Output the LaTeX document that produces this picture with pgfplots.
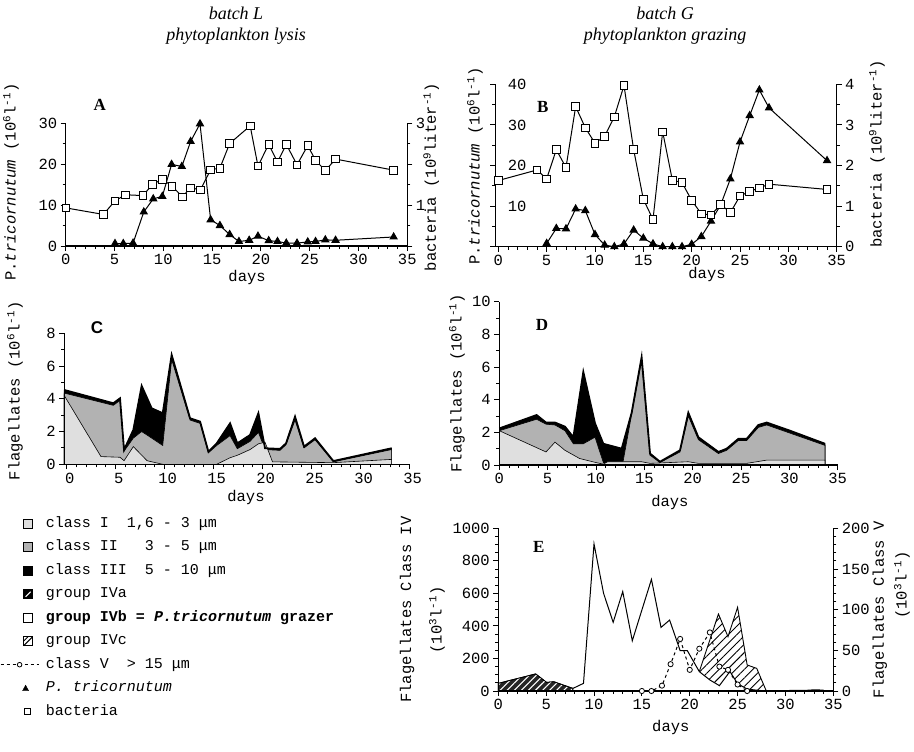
\documentclass[border=0pt]{standalone}
\usepackage{pgfplots}
\pgfplotsset{compat=1.18}
\usepackage{fontspec}
\setmainfont{Liberation Mono}
\newfontfamily\serifit{Liberation Serif}
\newfontfamily\sansf{Liberation Sans}
\usetikzlibrary{patterns,patterns.meta}
\pgfplotsset{
  common/.style={
    scale only axis, clip=false, axis on top,
    font=\fontsize{15.5}{17}\selectfont,
    /pgf/number format/assume math mode=true,
    /pgf/number format/1000 sep={},
    axis line style={line width=1.3pt},
    tick style={black, line width=0.9pt},
    major tick length=5pt, minor tick length=3pt,
    tick align=outside,
  },
  base/.style={common,
    xtick={0,5,...,35}, minor x tick num=4,
    axis x line*=bottom, axis y line*=left,
    every axis x label/.style={anchor=center},
    every axis y label/.style={anchor=center, rotate=90},
  },
  twin/.style={common,
    axis x line=none, axis y line*=right,
    every axis y label/.style={anchor=center, rotate=90},
  },
}
\newcommand{\panel}[1]{\node[font=\serifit\bfseries\fontsize{17}{19}\selectfont] at #1}
\begin{document}
\begin{tikzpicture}
\useasboundingbox (0pt,0pt) rectangle (914pt,-752pt);
% titles
\node[font=\serifit\itshape\fontsize{18}{20}\selectfont] at (236pt,-13pt) {batch L};
\node[font=\serifit\itshape\fontsize{18}{20}\selectfont] at (236pt,-36pt) {phytoplankton lysis};
\node[font=\serifit\itshape\fontsize{18}{20}\selectfont] at (665pt,-13pt) {batch G};
\node[font=\serifit\itshape\fontsize{18}{20}\selectfont] at (665pt,-36pt) {phytoplankton grazing};

% ---------------- Panel A ----------------
\begin{axis}[base, at={(65.7pt,-246pt)}, anchor=south west, width=341.6pt, height=123pt,
  xmin=0, xmax=35, ymin=0, ymax=30, ytick={0,10,20,30}, minor y tick num=1,
  xlabel={days}, xlabel style={at={(axis description cs:0.531,-0.254)}},
  ylabel={P.\textit{tricornutum} (10\textsuperscript{6}l\textsuperscript{-1})},
  ylabel style={at={(axis description cs:-0.16,0.52)}}]
\addplot[line width=1pt, mark=triangle*, mark size=4pt] coordinates {
(5.05,0.6)(5.9,0.6)(6.9,0.7)(8.0,8.3)(8.97,11.5)(9.9,12.1)(10.85,19.9)(11.9,19.4)
(12.8,25.5)(13.76,29.8)(14.85,6.4)(15.8,5.0)(16.8,2.8)(17.75,1.1)(18.8,1.4)(19.7,2.4)
(20.8,1.3)(21.7,1.1)(22.6,0.7)(23.7,0.7)(24.8,1.0)(25.6,1.1)(26.6,1.5)(27.65,1.4)(33.6,2.2)};
\panel{(axis description cs:0.10,1.15)} {A};
\end{axis}
\begin{axis}[twin, at={(65.7pt,-246pt)}, anchor=south west, width=341.6pt, height=123pt,
  xmin=0, xmax=35, ymin=0, ymax=3, ytick={0,1,2,3}, yticklabels={,1,,3}, minor y tick num=1,
  ylabel={bacteria (10\textsuperscript{9}liter\textsuperscript{-1})},
  ylabel style={at={(axis description cs:1.07,0.56)}}]
\addplot[line width=1pt, mark=square*, mark size=3.8pt, mark options={fill=white, line width=0.8pt}] coordinates {
(0,0.93)(3.86,0.77)(5.05,1.10)(6.1,1.25)(7.9,1.23)(8.9,1.50)(9.9,1.63)(10.9,1.46)(11.95,1.20)
(12.8,1.42)(13.8,1.37)(14.85,1.86)(15.8,1.90)(16.8,2.50)(18.9,2.93)(19.7,1.95)(20.8,2.48)
(21.7,2.05)(22.6,2.48)(23.7,1.98)(24.8,2.45)(25.6,2.09)(26.6,1.84)(27.65,2.12)(33.6,1.85)};
\end{axis}

% ---------------- Panel B ----------------
\begin{axis}[base, at={(495.4pt,-246.7pt)}, anchor=south west, width=341.3pt, height=162.4pt,
  xmin=-0.3, xmax=35, ymin=0, ymax=40, ytick={0,10,20,30,40}, yticklabels={,10,20,30,40},
  minor y tick num=1, yticklabel style={anchor=west, xshift=14pt},
  xlabel={days}, xlabel style={at={(axis description cs:0.62,-0.174)}},
  ylabel={P.\textit{tricornutum} (10\textsuperscript{6}l\textsuperscript{-1})},
  ylabel style={at={(axis description cs:-0.06,0.497)}}]
\addplot[line width=1pt, mark=triangle*, mark size=4pt] coordinates {
(5,0.8)(6,4.5)(7,4.4)(8,9.3)(9,8.9)(10,3.0)(11,0.4)(12,0)(13,0.7)(14,4.1)(15,2.1)(16,0.7)
(17,0)(18,0)(19,0)(20,0.6)(21,2.5)(22,6.3)(23,10.3)(24,16.7)(25,25.8)(26,32.3)(27,38.6)(28,34.2)(34,21.2)};
\panel{(axis description cs:0.139,0.86)} {B};
\end{axis}
\begin{axis}[twin, at={(495.4pt,-246.7pt)}, anchor=south west, width=341.3pt, height=162.4pt,
  xmin=-0.3, xmax=35, ymin=0, ymax=4, ytick={0,1,2,3,4}, minor y tick num=1,
  ylabel={bacteria (10\textsuperscript{9}liter\textsuperscript{-1})},
  ylabel style={at={(axis description cs:1.118,0.571)}}]
\addplot[line width=1pt, mark=square*, mark size=3.8pt, mark options={fill=white, line width=0.8pt}] coordinates {
(0,1.63)(4,1.89)(5,1.67)(6,2.39)(7,1.95)(8,3.45)(9,2.93)(10,2.55)(11,2.72)(12,3.2)(13,3.97)
(14,2.39)(15,1.17)(16,0.67)(17,2.83)(18,1.64)(19,1.58)(20,1.14)(21,0.81)(22,0.78)(23,1.04)
(24,0.84)(25,1.25)(26,1.36)(27,1.45)(28,1.54)(34,1.41)};
\end{axis}

% ---------------- Panel C ----------------
\begin{axis}[base, at={(64.25pt,-464.3pt)}, anchor=south west, width=345.45pt, height=131pt,
  xmin=-0.25, xmax=35, ymin=0, ymax=8, ytick={0,2,4,6,8}, minor y tick num=1,
  xticklabel style={xshift=3pt},
  xlabel={days}, xlabel style={at={(axis description cs:0.526,-0.25)}},
  ylabel={Flagellates (10\textsuperscript{6}l\textsuperscript{-1})},
  ylabel style={at={(axis description cs:-0.1426,0.56)}}]
\addplot[fill=black, draw=black, line width=0.5pt] coordinates {
(-0.25,4.54)(4.76,3.73)(5.44,4.03)(5.85,0.88)(6.80,2.10)(7.65,4.79)(8.67,3.42)(9.80,3.12)
(10.71,6.68)(12.59,2.81)(13.61,2.61)(14.46,0.77)(15.31,1.28)(16.67,2.50)(17.41,1.28)(18.71,1.79)
(19.56,3.12)(20.24,0.98)(21.77,0.94)(22.38,1.28)(23.30,2.91)(24.22,1.08)(25.34,1.59)(27.21,0.20)(33.16,0.98)} \closedcycle;
\addplot[fill=gray!60, draw=black, line width=0.6pt] coordinates {
(-0.25,4.35)(4.76,3.6)(5.44,3.9)(5.85,0.8)(6.80,1.6)(7.65,2.0)(8.67,1.6)(9.80,1.15)
(10.71,6.4)(12.59,2.7)(13.61,2.5)(14.46,0.7)(15.31,1.15)(16.67,1.75)(17.41,0.95)(18.71,1.4)
(19.56,1.95)(20.24,0.9)(21.77,0.85)(22.38,1.2)(23.30,2.7)(24.22,1.0)(25.34,1.5)(27.21,0.15)(33.16,0.9)} \closedcycle;
\addplot[fill=gray!25, draw=black, line width=0.6pt] coordinates {
(-0.25,4.2)(3.5,0.47)(5.44,0.43)(5.85,0.22)(6.80,1.08)(8.2,0.22)(9.8,0.0)(15.3,0.0)
(16.67,0.4)(17.41,0.55)(18.71,0.9)(19.56,1.25)(20.24,1.35)(21.0,0.15)(27.2,0.1)(33.16,0.3)} \closedcycle;
\addplot[draw=black, line width=1.8pt] coordinates {
(-0.25,4.54)(4.76,3.73)(5.44,4.03)(5.85,0.88)(6.80,2.10)(7.65,4.79)(8.67,3.42)(9.80,3.12)
(10.71,6.68)(12.59,2.81)(13.61,2.61)(14.46,0.77)(15.31,1.28)(16.67,2.50)(17.41,1.28)(18.71,1.79)
(19.56,3.12)(20.24,0.98)(21.77,0.94)(22.38,1.28)(23.30,2.91)(24.22,1.08)(25.34,1.59)(27.21,0.20)(33.16,0.98)};
\node[font=\sansf\bfseries\fontsize{17}{19}\selectfont] at (axis description cs:0.095,1.04) {C};
\end{axis}

% ---------------- Panel D ----------------
\begin{axis}[base, at={(499.3pt,-465pt)}, anchor=south west, width=338.4pt, height=163.3pt,
  xmin=0, xmax=35, ymin=0, ymax=10, ytick={0,2,...,10}, minor y tick num=1,
  xlabel={days}, xlabel style={at={(axis description cs:0.504,-0.2266)}},
  ylabel={Flagellates (10\textsuperscript{6}l\textsuperscript{-1})},
  ylabel style={at={(axis description cs:-0.125,0.502)}}]
\addplot[fill=black, draw=black, line width=0.5pt] coordinates {
(0,2.24)(3.86,3.06)(4.83,2.6)(5.76,2.6)(6.79,2.35)(7.66,1.7)(8.69,5.7)(9.9,2.55)(10.76,1.3)
(12.66,1.0)(13.69,3.2)(14.72,6.6)(15.59,0.7)(16.62,0.2)(18.69,0.9)(19.55,3.2)(20.59,1.7)
(22.66,0.8)(23.52,1.0)(24.72,1.6)(25.59,1.6)(26.79,2.45)(27.66,2.6)(30.07,2.1)(33.69,1.3)} \closedcycle;
\addplot[fill=gray!60, draw=black, line width=0.6pt] coordinates {
(0,2.1)(3.86,2.8)(4.83,2.5)(5.76,2.45)(6.79,2.1)(7.66,1.3)(8.69,1.3)(9.9,1.7)(10.76,0.15)
(12.8,0.2)(13.69,3.1)(14.72,6.4)(15.59,0.6)(16.62,0.15)(18.69,0.8)(19.55,3.0)(20.59,1.55)
(22.66,0.7)(23.52,0.9)(24.72,1.5)(25.59,1.5)(26.79,2.3)(27.66,2.45)(30.07,1.95)(33.69,1.2)} \closedcycle;
\addplot[fill=gray!25, draw=black, line width=0.6pt] coordinates {
(0,2.1)(4.83,0.8)(5.76,1.4)(6.79,0.9)(8.3,0.4)(10.0,0.15)(10.76,0.05)(11.2,0.2)(12.8,0.2)
(14.72,0.2)(15.59,0.1)(19.55,0.2)(20.59,0.1)(25.59,0.1)(27.66,0.3)(33.69,0.3)} \closedcycle;
\addplot[draw=black, line width=1.8pt] coordinates {
(0,2.24)(3.86,3.06)(4.83,2.6)(5.76,2.6)(6.79,2.35)(7.66,1.7)(8.69,5.7)(9.9,2.55)(10.76,1.3)
(12.66,1.0)(13.69,3.2)(14.72,6.6)(15.59,0.7)(16.62,0.2)(18.69,0.9)(19.55,3.2)(20.59,1.7)
(22.66,0.8)(23.52,1.0)(24.72,1.6)(25.59,1.6)(26.79,2.45)(27.66,2.6)(30.07,2.1)(33.69,1.3)};
\panel{(axis description cs:0.126,0.857)} {D};
\end{axis}

% ---------------- Panel E ----------------
\begin{axis}[base, at={(498.3pt,-691pt)}, anchor=south west, width=335pt, height=162.7pt,
  xmin=0, xmax=35, ymin=0, ymax=1000, ytick={0,200,...,1000}, minor y tick num=3,
  xlabel={days}, xlabel style={at={(axis description cs:0.515,-0.227)}},
  ylabel={Flagellates Class IV},
  ylabel style={at={(axis description cs:-0.2725,0.5)}}]
\addplot[fill=black!85, draw=black, line width=0.8pt,
  postaction={pattern={Lines[angle=45,distance=5pt,line width=1.1pt]}, pattern color=white}] coordinates {
(0,47)(3.9,105)(5.05,53)(5.8,57)(7.8,16)} \closedcycle;
\addplot[draw=black, line width=0.9pt, pattern={Lines[angle=45,distance=6pt,line width=0.9pt]}, pattern color=black] coordinates {
(21.0,119)(23.0,473)(24.0,334)(25.0,514)(26.0,160)(27.0,139)(28.0,0)} \closedcycle;
\addplot[fill=white, draw=black, line width=1pt] coordinates {
(7.8,16)(8.9,47)(10.0,904)(11.0,600)(12.0,422)(13.0,611)(14.0,309)(16.0,686)(17.0,391)
(17.9,436)(19.0,248)(19.75,248)(21.0,119)(22.1,68)(23.1,33)(24.2,120)(25.0,45)(26.0,12)(27.0,5)(28.0,0)} \closedcycle;
\addplot[draw=black, line width=0.8pt] coordinates {(29.6,2)(31,5)(32,4)(33,8)(34,6)};
\panel{(axis description cs:0.121,0.885)} {E};
\node[rotate=90] at (axis description cs:-0.183,0.436) {(10\textsuperscript{3}l\textsuperscript{-1})};
\end{axis}
\begin{axis}[twin, at={(498.3pt,-691pt)}, anchor=south west, width=335pt, height=162.7pt,
  xmin=0, xmax=35, ymin=0, ymax=200, ytick={0,50,...,200}, minor y tick num=4,
  ylabel={Flagellates Class V},
  ylabel style={at={(axis description cs:1.139,0.5)}}]
\addplot[dashed, line width=1pt, mark=*, mark size=2.6pt, mark options={solid, fill=white, draw=black, line width=0.8pt}] coordinates {
(15,0)(16,0)(17.1,6.6)(18,33)(19,64)(20,26)(21,52)(22.1,72)(23.1,30)(24,26)(25,8)(26,0)};
\node[rotate=90] at (axis description cs:1.205,0.651) {(10\textsuperscript{3}l\textsuperscript{-1})};
\end{axis}

% ---------------- Legend ----------------
\begin{axis}[hide axis, scale only axis, at={(0pt,-517pt)}, anchor=north west, width=20pt, height=20pt,
  xmin=0, xmax=1, ymin=0, ymax=1,
  legend style={at={(0,1)}, anchor=north west, draw=none, fill=none, inner sep=0pt,
    font=\fontsize{15}{16}\selectfont, row sep=10.5pt, column sep=7pt,
    nodes={text height=10pt, text depth=3pt, inner sep=0pt}},
  legend cell align=left]
\addlegendimage{legend image code/.code={\path (0pt,0pt) (38pt,0pt); \draw[fill=gray!25, line width=0.7pt] (23pt,-4.5pt) rectangle (32pt,4.5pt);}}
\addlegendentry{class I\ \ 1,6 - 3 μm}
\addlegendimage{legend image code/.code={\path (0pt,0pt) (38pt,0pt); \draw[fill=gray!60, line width=0.7pt] (23pt,-4.5pt) rectangle (32pt,4.5pt);}}
\addlegendentry{class II\ \ \ 3 - 5 μm}
\addlegendimage{legend image code/.code={\path (0pt,0pt) (38pt,0pt); \draw[fill=black, line width=0.7pt] (23pt,-4.5pt) rectangle (32pt,4.5pt);}}
\addlegendentry{class III\ \ 5 - 10 μm}
\addlegendimage{legend image code/.code={\path (0pt,0pt) (38pt,0pt); \draw[fill=black, line width=0.7pt] (23pt,-4.5pt) rectangle (32pt,4.5pt); \draw[white, line width=1pt] (25pt,-2.5pt) -- (30pt,2.5pt);}}
\addlegendentry{group IVa}
\addlegendimage{legend image code/.code={\path (0pt,0pt) (38pt,0pt); \draw[fill=white, line width=1.2pt] (23pt,-4.5pt) rectangle (32pt,4.5pt);}}
\addlegendentry{\textbf{group IVb = \textit{P.tricornutum} grazer}}
\addlegendimage{legend image code/.code={\path (0pt,0pt) (38pt,0pt); \draw[fill=white, line width=0.9pt] (23pt,-4.5pt) rectangle (32pt,4.5pt); \draw[line width=1pt] (23pt,-4.5pt) -- (32pt,4.5pt); \draw[line width=0.8pt] (23pt,0pt) -- (27.5pt,4.5pt);}}
\addlegendentry{group IVc}
\addlegendimage{legend image code/.code={\path (0pt,0pt) (38pt,0pt); \draw[dashed, line width=0.8pt] (0pt,0pt) -- (38pt,0pt); \draw[fill=white, line width=0.8pt] (19pt,0pt) circle (2.3pt);}}
\addlegendentry{class V\ \ > 15 μm}
\addlegendimage{legend image code/.code={\path (0pt,0pt) (38pt,0pt); \fill (22pt,-2.5pt) -- (28pt,-2.5pt) -- (25pt,3pt) -- cycle;}}
\addlegendentry{\textit{P. tricornutum}}
\addlegendimage{legend image code/.code={\path (0pt,0pt) (38pt,0pt); \draw[fill=white, line width=0.9pt] (24pt,-3pt) rectangle (30pt,3pt);}}
\addlegendentry{bacteria}
\end{axis}
\end{tikzpicture}
\end{document}
